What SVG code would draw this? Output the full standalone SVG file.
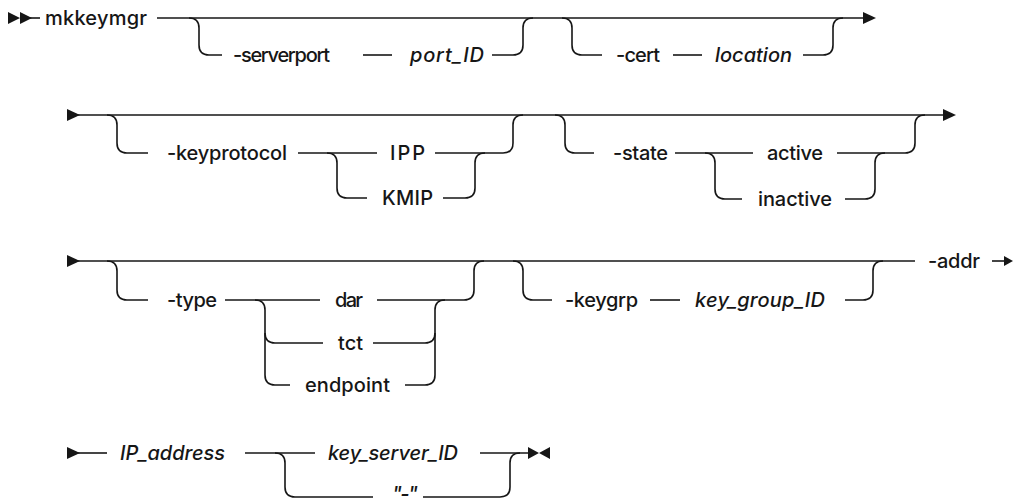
<svg xmlns="http://www.w3.org/2000/svg" width="1014" height="504" viewBox="0 0 1014 504">
<style>
.t{font-family:Inter,"Noto Sans","DejaVu Sans",sans-serif;font-size:20px;font-weight:500;fill:#161616}
.i{font-style:italic}
.c path,.c line{fill:none;stroke:#161616;stroke-width:1.6}
.a{fill:#161616}
</style>
<rect width="1014" height="504" fill="#fff"/>
<g id="connectors" class="c">
<line x1="30" y1="18" x2="40" y2="18"/>
<line x1="157" y1="18" x2="865" y2="18"/>
<path d="M189,18 Q199,18 199,28 L199,45 Q199,55 209,55 L222,55"/>
<line x1="363" y1="55" x2="392" y2="55"/>
<path d="M492,55 L513,55 Q523,55 523,45 L523,28 Q523,18 533,18"/>
<path d="M562,18 Q572,18 572,28 L572,45 Q572,55 582,55 L602,55"/>
<line x1="673" y1="55" x2="702" y2="55"/>
<path d="M803,55 L823,55 Q833,55 833,45 L833,28 Q833,18 843,18"/>
<line x1="78" y1="115" x2="945" y2="115"/>
<path d="M107,115 Q117,115 117,125 L117,143 Q117,153 127,153 L148,153"/>
<line x1="298" y1="153" x2="377" y2="153"/>
<path d="M327,153 Q337,153 337,163 L337,188 Q337,198 347,198 L367,198"/>
<line x1="435" y1="153" x2="503" y2="153"/>
<path d="M443,198 L465,198 Q475,198 475,188 L475,163 Q475,153 485,153"/>
<path d="M503,153 Q513,153 513,143 L513,125 Q513,115 523,115"/>
<path d="M555,115 Q565,115 565,125 L565,143 Q565,153 575,153 L594,153"/>
<line x1="675" y1="153" x2="753" y2="153"/>
<path d="M705,153 Q715,153 715,163 L715,189 Q715,199 725,199 L742,199"/>
<line x1="837" y1="153" x2="905" y2="153"/>
<path d="M845,199 L865,199 Q875,199 875,189 L875,163 Q875,153 885,153"/>
<path d="M905,153 Q915,153 915,143 L915,125 Q915,115 925,115"/>
<line x1="78" y1="261" x2="915" y2="261"/>
<path d="M107,261 Q117,261 117,271 L117,290 Q117,300 127,300 L148,300"/>
<line x1="225" y1="300" x2="320" y2="300"/>
<path d="M255,300 Q265,300 265,310 L265,375 Q265,385 275,385 L290,385"/>
<path d="M265,333 Q265,343 275,343 L323,343"/>
<path d="M377,300 L464,300 Q474,300 474,290 L474,271 Q474,261 484,261"/>
<path d="M373,343 L425,343 Q435,343 435,333"/>
<path d="M405,385 L425,385 Q435,385 435,375 L435,310 Q435,300 445,300"/>
<path d="M513,261 Q523,261 523,271 L523,290 Q523,300 533,300 L552,300"/>
<line x1="650" y1="300" x2="680" y2="300"/>
<path d="M845,300 L863,300 Q873,300 873,290 L873,271 Q873,261 883,261"/>
<line x1="992" y1="261" x2="1006" y2="261"/>
<line x1="78" y1="453" x2="107" y2="453"/>
<line x1="245" y1="453" x2="315" y2="453"/>
<path d="M275,453 Q285,453 285,463 L285,487 Q285,497 295,497 L373,497"/>
<path d="M423,497 L500,497 Q510,497 510,487 L510,463 Q510,453 520,453"/>
<line x1="480" y1="453" x2="530" y2="453"/>
</g>
<g id="markers">
<path class="a" d="M8,12 L20,18 L8,24 Z M20,12 L32,18 L20,24 Z"/>
<path class="a" d="M863,12 L876,18 L863,24 Z"/>
<path class="a" d="M67,109 L80,115 L67,121 Z"/>
<path class="a" d="M943,109 L956,115 L943,121 Z"/>
<path class="a" d="M67,255 L80,261 L67,267 Z"/>
<path class="a" d="M1004,256 L1013,261 L1004,266 Z"/>
<path class="a" d="M67,447 L80,453 L67,459 Z"/>
<path class="a" d="M528,447 L539,453 L528,459 Z M550,447 L539,453 L550,459 Z"/>
</g>
<g id="n-mkkeymgr"><text class="t" x="45" y="25" textLength="102">mkkeymgr</text></g>
<g id="n-serverport"><text class="t" x="233" y="62" textLength="97">-serverport</text></g>
<g id="n-port_ID"><text class="t i" x="410" y="62" textLength="74">port_ID</text></g>
<g id="n-cert"><text class="t" x="616" y="62" textLength="44">-cert</text></g>
<g id="n-location"><text class="t i" x="715" y="62" textLength="77">location</text></g>
<g id="n-keyprotocol"><text class="t" x="167" y="160" textLength="120">-keyprotocol</text></g>
<g id="n-IPP"><text class="t" x="390" y="160" textLength="35">IPP</text></g>
<g id="n-KMIP"><text class="t" x="382" y="205" textLength="51">KMIP</text></g>
<g id="n-state"><text class="t" x="613" y="160" textLength="55">-state</text></g>
<g id="n-active"><text class="t" x="767" y="160" textLength="56">active</text></g>
<g id="n-inactive"><text class="t" x="758" y="206" textLength="74">inactive</text></g>
<g id="n-type"><text class="t" x="167" y="307" textLength="50">-type</text></g>
<g id="n-dar"><text class="t" x="335" y="307" textLength="28">dar</text></g>
<g id="n-tct"><text class="t" x="338" y="350" textLength="25">tct</text></g>
<g id="n-endpoint"><text class="t" x="305" y="392" textLength="85">endpoint</text></g>
<g id="n-keygrp"><text class="t" x="565" y="307" textLength="73">-keygrp</text></g>
<g id="n-key_group_ID"><text class="t i" x="695" y="307" textLength="130">key_group_ID</text></g>
<g id="n-addr"><text class="t" x="928" y="268" textLength="52">-addr</text></g>
<g id="n-IP_address"><text class="t i" x="120" y="460" textLength="105">IP_address</text></g>
<g id="n-key_server_ID"><text class="t i" x="328" y="460" textLength="130">key_server_ID</text></g>
<g id="n-dash"><text class="t i" x="392" y="501" textLength="26">"-"</text></g>
</svg>
